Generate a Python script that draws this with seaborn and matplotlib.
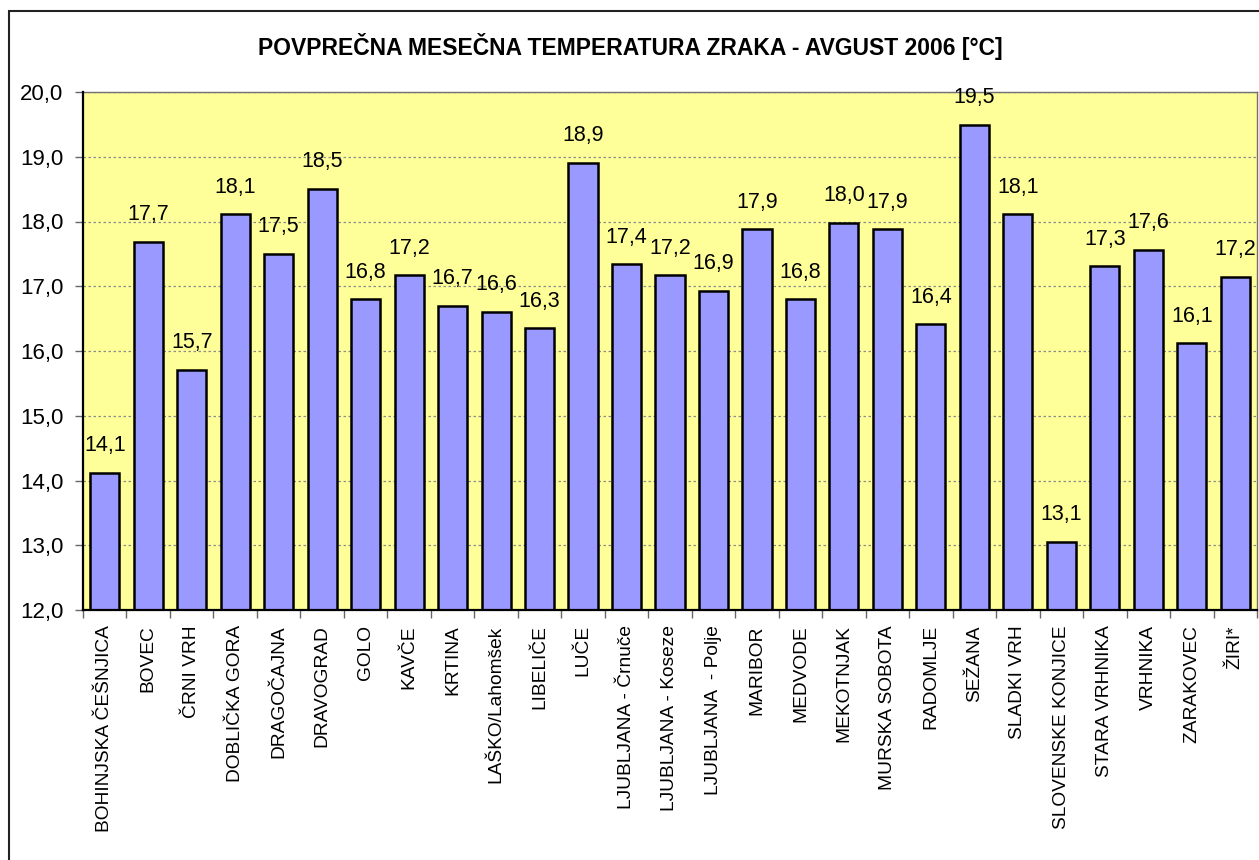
import matplotlib
matplotlib.use("Agg")
import matplotlib.pyplot as plt
import matplotlib.ticker as mticker
from matplotlib.patches import Rectangle
import seaborn as sns
import pandas as pd

stations = ["BOHINJSKA ČEŠNJICA", "BOVEC", "ČRNI VRH", "DOBLIČKA GORA", "DRAGOČAJNA",
            "DRAVOGRAD", "GOLO", "KAVČE", "KRTINA", "LAŠKO/Lahomšek", "LIBELIČE", "LUČE",
            "LJUBLJANA - Črnuče", "LJUBLJANA - Koseze", "LJUBLJANA  - Polje", "MARIBOR",
            "MEDVODE", "MEKOTNJAK", "MURSKA SOBOTA", "RADOMLJE", "SEŽANA", "SLADKI VRH",
            "SLOVENSKE KONJICE", "STARA VRHNIKA", "VRHNIKA", "ZARAKOVEC", "ŽIRI*"]
temps = [14.12, 17.69, 15.71, 18.11, 17.50, 18.50, 16.80, 17.17, 16.70, 16.60, 16.35,
         18.91, 17.34, 17.17, 16.93, 17.88, 16.80, 17.98, 17.88, 16.41, 19.49, 18.11,
         13.05, 17.31, 17.56, 16.12, 17.15]
labels = ["14,1", "17,7", "15,7", "18,1", "17,5", "18,5", "16,8", "17,2", "16,7", "16,6",
          "16,3", "18,9", "17,4", "17,2", "16,9", "17,9", "16,8", "18,0", "17,9", "16,4",
          "19,5", "18,1", "13,1", "17,3", "17,6", "16,1", "17,2"]
title = "POVPREČNA MESEČNA TEMPERATURA ZRAKA - AVGUST 2006 [°C]"
y_min, y_max = 12.0, 20.0

df = pd.DataFrame({"station": stations, "temp": temps})

sns.set_theme(style="white")
plt.rcParams["font.family"] = ["Liberation Sans", "DejaVu Sans"]

W, H = 1259, 860
fig = plt.figure(figsize=(W / 100, H / 100), dpi=100)
ax = fig.add_axes([83 / W, 1 - 610 / H, (1257 - 83) / W, (610 - 92) / H])
ax.set_facecolor("#FFFF99")

sns.barplot(data=df, x="station", y="temp", color="#9999FF", saturation=1,
            width=0.67, edgecolor="black", linewidth=1.8, ax=ax, zorder=3)

ax.set_ylim(y_min, y_max)
ax.set_xlim(-0.5, len(stations) - 0.5)
ax.yaxis.set_major_locator(mticker.MultipleLocator(1.0))
ax.yaxis.set_major_formatter(mticker.FuncFormatter(lambda v, p: f"{v:.1f}".replace(".", ",")))
ax.grid(axis="y", color="#8c8c8c", linestyle=(0, (2, 2)), linewidth=0.9, zorder=0)
ax.set_axisbelow(True)

for i, (v, lab) in enumerate(zip(temps, labels)):
    ax.annotate(lab, (i, v), xytext=(0, 12), textcoords="offset points",
                ha="center", va="bottom", fontsize=15.5, color="black", zorder=5)

ax.set_xlabel("")
ax.set_ylabel("")
ax.set_xticks(range(len(stations)))
ax.set_xticklabels(stations, rotation=90, fontsize=13.8, va="top", ha="center")
ax.set_xticks([i - 0.5 for i in range(len(stations) + 1)], minor=True)
ax.tick_params(axis="x", which="major", length=0, pad=11, colors="black")
ax.tick_params(axis="x", which="minor", length=6, width=1, color="#666666", bottom=True)
ax.tick_params(axis="y", which="major", length=6, width=1, color="#666666", left=True,
               pad=8, labelsize=16, labelcolor="black")

for s in ["left", "bottom"]:
    ax.spines[s].set_color("black")
    ax.spines[s].set_linewidth(1.6)
    ax.spines[s].set_zorder(6)
for s in ["top", "right"]:
    ax.spines[s].set_color("#707070")
    ax.spines[s].set_linewidth(1.0)

fig.text(630 / W, 1 - 47 / H, title, ha="center", va="center", fontsize=16.5,
         fontweight="bold", color="black")

fig.patches.append(Rectangle((9 / W, -0.05), 1.1, 1 - 11 / H + 0.05,
                             transform=fig.transFigure, fill=False,
                             edgecolor="#222222", linewidth=1.5, zorder=0))

fig.savefig("out.png", dpi=100, facecolor="white")
